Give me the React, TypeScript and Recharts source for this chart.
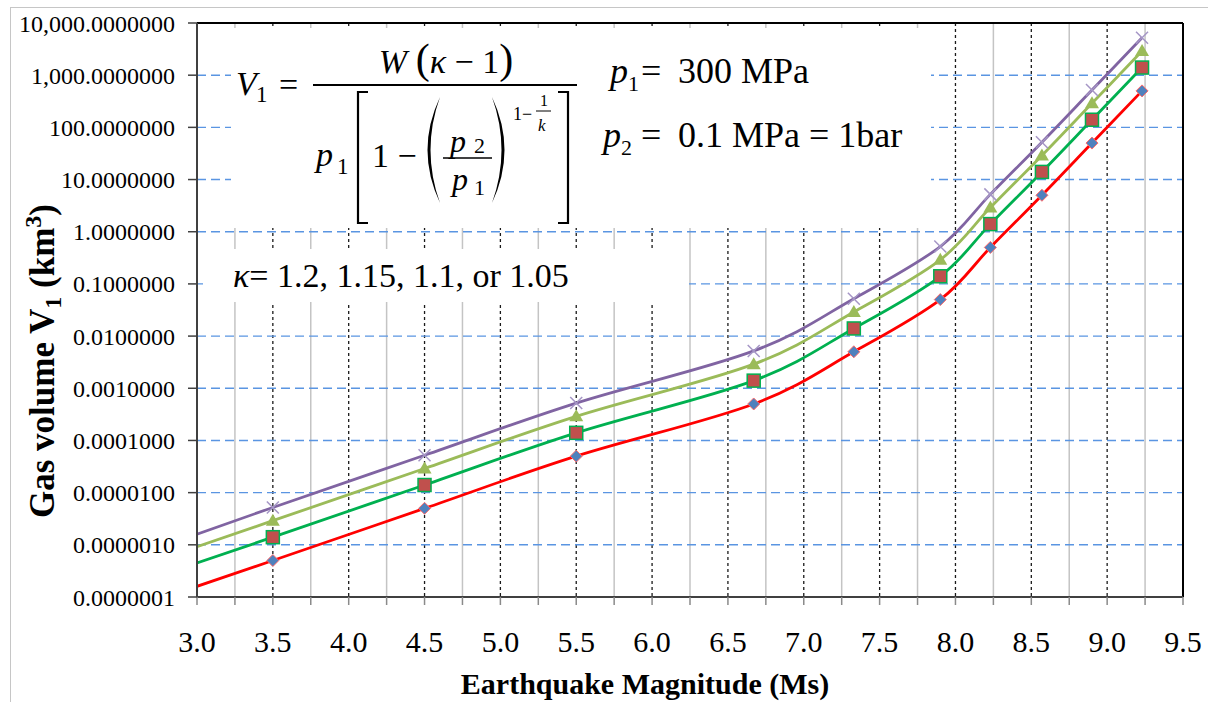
import React from 'react'
import { LineChart, Line, XAxis, YAxis, CartesianGrid, ReferenceLine } from 'recharts'

const SERIF = '"Liberation Serif", "Times New Roman", serif'

// earthquake magnitude (Ms) – first point only starts the curves, no marker
const MAGNITUDE = [3.0, 3.5, 4.5, 5.5, 6.67, 7.33, 7.9, 8.23, 8.57, 8.9, 9.23]
// gas volume V1 (km3) for each kappa
const K105 = [1.6e-7, 5e-7, 5e-6, 5e-5, 5e-4, 5e-3, 0.05, 0.5, 5, 50, 500]
const K110 = [4.5e-7, 1.4e-6, 1.4e-5, 1.4e-4, 1.4e-3, 1.4e-2, 0.14, 1.4, 14, 140, 1400]
const K115 = [9.2e-7, 2.9e-6, 2.9e-5, 2.9e-4, 2.9e-3, 2.9e-2, 0.29, 2.9, 29, 290, 2900]
const K120 = [1.6e-6, 5.2e-6, 5.2e-5, 5.2e-4, 5.2e-3, 5.2e-2, 0.52, 5.2, 52, 520, 5200]

const X_TICKS = [3, 3.25, 3.5, 3.75, 4, 4.25, 4.5, 4.75, 5, 5.25, 5.5, 5.75, 6, 6.25, 6.5, 6.75, 7, 7.25, 7.5, 7.75, 8, 8.25, 8.5, 8.75, 9, 9.25, 9.5]
const X_HALF = [3.5, 4, 4.5, 5, 5.5, 6, 6.5, 7, 7.5, 8, 8.5, 9]
const X_QUARTER = [3.25, 3.75, 4.25, 4.75, 5.25, 5.75, 6.25, 6.75, 7.25, 7.75, 8.25, 8.75, 9.25]
const Y_TICKS = [1e-7, 1e-6, 1e-5, 1e-4, 1e-3, 1e-2, 1e-1, 1, 10, 100, 1000, 10000]
const DECADES = [1e-7, 1e-6, 1e-5, 1e-4, 1e-3, 1e-2, 1e-1, 1, 10, 100, 1000]
const MINOR_STEPS = [2, 3, 4, 5, 6, 7, 8, 9]
const Y_MINOR = DECADES.flatMap((d) => MINOR_STEPS.map((s) => d * s))

const rows = MAGNITUDE.map((m, i) => ({ m, k105: K105[i], k110: K110[i], k115: K115[i], k120: K120[i] }))

const fmtY = (v: number) =>
  v.toLocaleString('en-US', { minimumFractionDigits: 7, maximumFractionDigits: 7 })
const fmtX = (v: number) => (Math.round(v * 4) % 2 === 0 ? v.toFixed(1) : '')

// Excel-style "smoothed line": bezier through the points, 1/6 neighbour tangents
const excelSmooth = (context: any) => {
  let xs: number[] = []
  let ys: number[] = []
  return {
    areaStart() {},
    areaEnd() {},
    lineStart() { xs = []; ys = [] },
    point(x: number, y: number) { xs.push(+x); ys.push(+y) },
    lineEnd() {
      const n = xs.length
      if (!n) return
      context.moveTo(xs[0], ys[0])
      for (let i = 0; i < n - 1; i++) {
        const a = Math.max(i - 1, 0)
        const b = Math.min(i + 2, n - 1)
        context.bezierCurveTo(
          xs[i] + (xs[i + 1] - xs[a]) / 6, ys[i] + (ys[i + 1] - ys[a]) / 6,
          xs[i + 1] - (xs[b] - xs[i]) / 6, ys[i + 1] - (ys[b] - ys[i]) / 6,
          xs[i + 1], ys[i + 1],
        )
      }
    },
  }
}

const diamondDot = (p: any) => {
  const { cx, cy, index } = p
  if (index === 0 || cx == null) return <g key={'d' + index} />
  return (
    <polygon key={'d' + index} points={`${cx},${cy - 6} ${cx + 6},${cy} ${cx},${cy + 6} ${cx - 6},${cy}`}
      fill="#4f81bd" stroke="#ff6a6a" strokeWidth={1} />
  )
}
const squareDot = (p: any) => {
  const { cx, cy, index } = p
  if (index === 0 || cx == null) return <g key={'s' + index} />
  return <rect key={'s' + index} x={cx - 6.5} y={cy - 6.5} width={13} height={13} fill="#c0504d" stroke="#00b050" strokeWidth={1.5} />
}
const triangleDot = (p: any) => {
  const { cx, cy, index } = p
  if (index === 0 || cx == null) return <g key={'t' + index} />
  return <polygon key={'t' + index} points={`${cx},${cy - 7} ${cx + 7},${cy + 5} ${cx - 7},${cy + 5}`} fill="#9bbb59" />
}
const crossDot = (p: any) => {
  const { cx, cy, index } = p
  if (index === 0 || cx == null) return <g key={'x' + index} />
  return (
    <g key={'x' + index} stroke="#a596c6" strokeWidth={1.5}>
      <line x1={cx - 6} y1={cy - 6} x2={cx + 6} y2={cy + 6} />
      <line x1={cx - 6} y1={cy + 6} x2={cx + 6} y2={cy - 6} />
    </g>
  )
}

const XTitle = (props: any) => {
  const vb = props.viewBox || { x: 197, y: 597, width: 986, height: 105 }
  return (
    <text x={vb.x + vb.width / 2 - 45} y={vb.y + 97} textAnchor="middle" fontFamily={SERIF}
      fontWeight="bold" fontSize={30} fill="#000">
      Earthquake Magnitude (Ms)
    </text>
  )
}

const YTitle = () => (
  <text x={54} y={361} transform="rotate(-90 54 361)" textAnchor="middle" fontFamily={SERIF}
    fontWeight="bold" fontSize={35} fill="#000">
    Gas volume V<tspan fontSize={24} dy={7}>1</tspan>
    <tspan dy={-7}> (km</tspan><tspan fontSize={24} dy={-13}>3</tspan><tspan dy={13}>)</tspan>
  </text>
)

// formula + parameter notes sit on white boxes over the plot, like in the original
function Notes() {
  return (
    <svg width={1208} height={702} style={{ position: 'absolute', left: 0, top: 0, pointerEvents: 'none' }}
      fontFamily={SERIF} fill="#000">
      <rect x={231} y={28} width={700} height={200} fill="#fff" />
      <rect x={203} y={249} width={486} height={53} fill="#fff" />

      <text x={236} y={95} fontSize={34} fontStyle="italic">V</text>
      <text x={256} y={102} fontSize={23}>1</text>
      <text x={279} y={96} fontSize={34}>=</text>

      <text x={446} y={73} fontSize={34} textAnchor="middle">
        <tspan fontStyle="italic">W</tspan> <tspan fontSize={42}>(</tspan>
        <tspan fontStyle="italic">κ</tspan> − 1<tspan fontSize={42}>)</tspan>
      </text>
      <line x1={313} x2={577} y1={85} y2={85} stroke="#000" strokeWidth={1.8} />

      <text x={316} y={166} fontSize={34} fontStyle="italic">p</text>
      <text x={337} y={174} fontSize={23}>1</text>
      <path d="M368 92 H358 V223 H368" fill="none" stroke="#000" strokeWidth={2.2} />
      <text x={372} y={167} fontSize={34}>1 −</text>
      <path d="M440 97 Q415 150 440 203 Q421 150 440 97 Z" />
      <text x={450} y={152} fontSize={32} fontStyle="italic">p</text>
      <text x={474} y={153} fontSize={22}>2</text>
      <line x1={443} x2={492} y1={158} y2={158} stroke="#000" strokeWidth={1.5} />
      <text x={452} y={190} fontSize={32} fontStyle="italic">p</text>
      <text x={474} y={195} fontSize={22}>1</text>
      <path d="M492 97 Q517 150 492 203 Q511 150 492 97 Z" />
      <text x={513} y={120} fontSize={18}>1−</text>
      <text x={540} y={106} fontSize={16}>1</text>
      <line x1={536} x2={551} y1={111} y2={111} stroke="#000" strokeWidth={1} />
      <text x={538} y={131} fontSize={17} fontStyle="italic">k</text>
      <path d="M558 92 H568 V223 H558" fill="none" stroke="#000" strokeWidth={2.2} />

      <text x={610} y={83} fontSize={36} fontStyle="italic">p</text>
      <text x={628} y={91} fontSize={22}>1</text>
      <text x={641} y={83} fontSize={36}>=</text>
      <text x={678} y={83} fontSize={36}>300 MPa</text>

      <text x={603} y={147} fontSize={36} fontStyle="italic">p</text>
      <text x={621} y={155} fontSize={22}>2</text>
      <text x={641} y={147} fontSize={36}>=</text>
      <text x={678} y={147} fontSize={36}>0.1 MPa = 1bar</text>

      <text x={233} y={287} fontSize={34}>
        <tspan fontStyle="italic">κ</tspan>= 1.2, 1.15, 1.1, or 1.05
      </text>
    </svg>
  )
}

export default function App() {
  return (
    <div style={{ position: 'absolute', left: 0, top: 0, width: 1208, height: 702, background: '#fff', overflow: 'hidden' }}>
      <div style={{ position: 'absolute', left: 10, top: 7, width: 1220, height: 720, border: '1.5px solid #c6c6c6' }} />
      <div style={{ position: 'absolute', left: 0, top: 0 }}>
        <LineChart width={1208} height={702} data={rows} margin={{ top: 23, right: 25, bottom: 0, left: 0 }}>
          <CartesianGrid xAxisId="quarter" horizontal={false} stroke="#c4c4c4" strokeWidth={1.5} />
          <CartesianGrid xAxisId="half" horizontal={false} stroke="#1a1a1a" strokeWidth={1.3} strokeDasharray="3 3" />
          <CartesianGrid vertical={false} stroke="#5a95e2" strokeWidth={1.4} strokeDasharray="9 5" />

          <XAxis xAxisId="quarter" dataKey="m" type="number" domain={[3, 9.5]} ticks={X_QUARTER} allowDataOverflow hide />
          <XAxis xAxisId="half" dataKey="m" type="number" domain={[3, 9.5]} ticks={X_HALF} allowDataOverflow hide />
          <XAxis dataKey="m" type="number" domain={[3, 9.5]} ticks={X_TICKS} interval={0} allowDataOverflow
            height={105} tickFormatter={fmtX} tick={{ fontSize: 30, fill: '#000', fontFamily: SERIF }}
            tickSize={8} tickMargin={26} axisLine={{ stroke: '#404040', strokeWidth: 2 }}
            tickLine={{ stroke: '#8a8a8a', strokeWidth: 1.5 }} label={<XTitle />} />

          <YAxis yAxisId="minor" scale="log" domain={[1e-7, 1e4]} allowDataOverflow ticks={Y_MINOR} interval={0}
            width={0} tick={false} tickSize={8} axisLine={false} tickLine={{ stroke: '#8a8a8a', strokeWidth: 1 }} />
          <YAxis scale="log" domain={[1e-7, 1e4]} allowDataOverflow ticks={Y_TICKS} interval={0} width={197}
            tickFormatter={fmtY} tick={{ fontSize: 24, fill: '#000', fontFamily: SERIF }} tickSize={9} tickMargin={13}
            axisLine={{ stroke: '#404040', strokeWidth: 2 }} tickLine={{ stroke: '#404040', strokeWidth: 1.5 }}
            label={<YTitle />} />

          <ReferenceLine y={10000} stroke="#000" strokeWidth={2} />
          <ReferenceLine x={9.5} stroke="#000" strokeWidth={2} />

          <Line type={excelSmooth as any} dataKey="k120" stroke="#8064a2" strokeWidth={2.8} dot={crossDot} activeDot={false} isAnimationActive={false} />
          <Line type={excelSmooth as any} dataKey="k115" stroke="#9bbb59" strokeWidth={2.8} dot={triangleDot} activeDot={false} isAnimationActive={false} />
          <Line type={excelSmooth as any} dataKey="k110" stroke="#00b050" strokeWidth={2.8} dot={squareDot} activeDot={false} isAnimationActive={false} />
          <Line type={excelSmooth as any} dataKey="k105" stroke="#ff0000" strokeWidth={2.8} dot={diamondDot} activeDot={false} isAnimationActive={false} />
        </LineChart>
      </div>
      <Notes />
    </div>
  )
}
